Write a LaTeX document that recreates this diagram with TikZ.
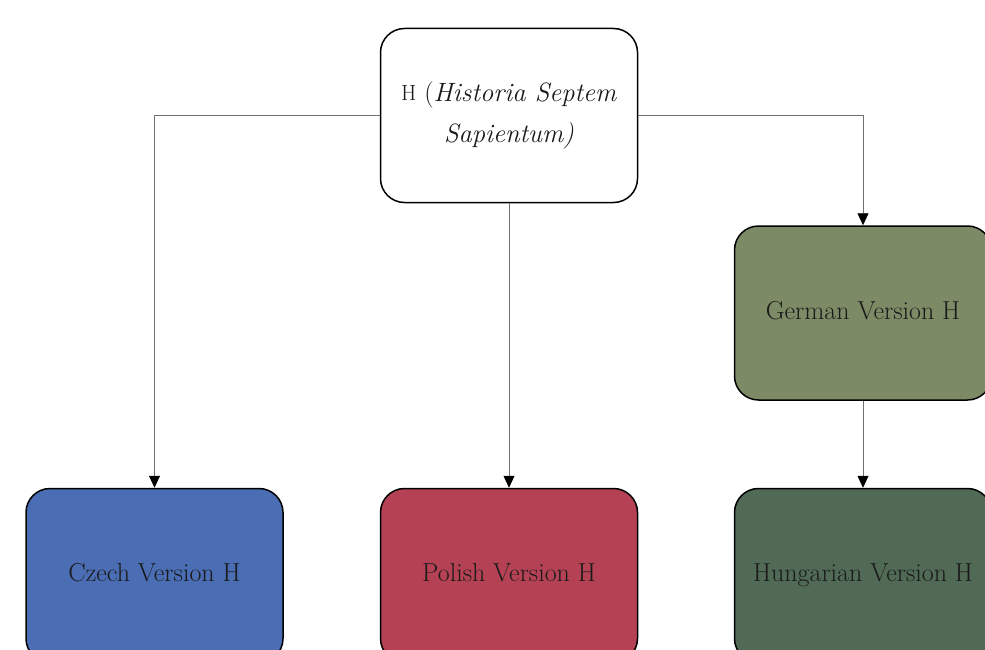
\documentclass[tikz,border=0pt]{standalone}
\usetikzlibrary{arrows.meta}
\definecolor{czechc}{HTML}{4A6DB4}
\definecolor{polishc}{HTML}{B44254}
\definecolor{germanc}{HTML}{7C8A66}
\definecolor{hungc}{HTML}{506A55}
\definecolor{txt}{HTML}{1A1A1A}
\definecolor{conn}{HTML}{707070}
\begin{document}
\begin{tikzpicture}[x=1pt,y=-1pt,
  vbox/.style={draw=black,line width=1.5pt,rounded corners=24pt,minimum width=257pt,minimum height=174pt,inner sep=0pt,align=center,text=txt,font=\fontsize{26}{30}\selectfont},
  link/.style={draw=conn,line width=0.8pt,-{Triangle[width=11pt,length=12pt,fill=black,color=black]}}]
\useasboundingbox (0,0) rectangle (985,650);
\clip (0,0) rectangle (985,650);
\fill[white] (0,0) rectangle (985,650);
\node[vbox,fill=white,font=\fontsize{26.5}{41}\selectfont] (top) at (509,115.5) {\raisebox{1pt}{\fontsize{22}{41}\selectfont H} (\textit{Historia Septem}\\\textit{Sapientum)}};
\node[vbox,fill=germanc] (german) at (863,313) {\strut German Version H};
\node[vbox,fill=czechc] (czech) at (154.5,575.5) {\strut Czech Version H};
\node[vbox,fill=polishc] (polish) at (509,575.5) {\strut Polish Version H};
\node[vbox,fill=hungc] (hung) at (863,575.5) {\strut Hungarian Version H};
\draw[link] (top.west) -| (czech.north);
\draw[link] (top.east) -| (german.north);
\draw[link] (top.south) -- (polish.north);
\draw[link] (german.south) -- (hung.north);
\end{tikzpicture}
\end{document}
